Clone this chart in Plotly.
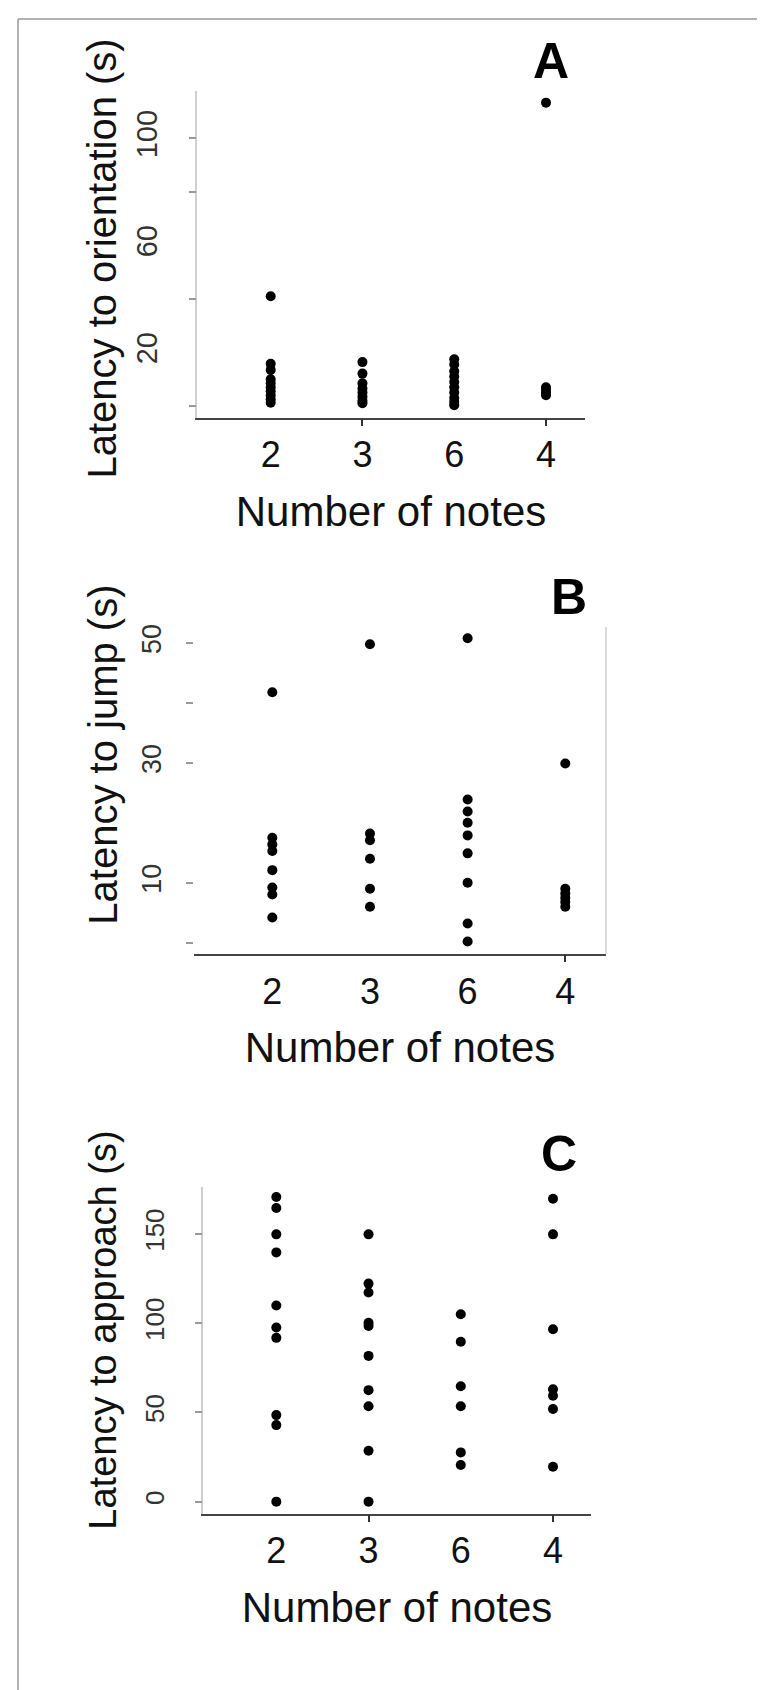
import plotly.graph_objects as go

# ---------------- data ----------------
categories = ["2", "3", "6", "4"]

# Panel A: latency to orientation (s)
orient_2 = [41, 15.8, 13.5, 10, 8.5, 7, 5.5, 4, 2.5, 1.2]
orient_3 = [16.4, 12.1, 8.5, 6.5, 5, 3.5, 2, 1]
orient_6 = [17.5, 15.5, 13, 11, 9, 7, 5, 3, 1.5, 0.3]
orient_4 = [113.4, 7, 6, 5, 4]

# Panel B: latency to jump (s)
jump_2 = [41.8, 17.5, 16.4, 15.3, 12.1, 9.2, 8.05, 4.2]
jump_3 = [49.8, 18.2, 17.1, 14, 9, 6]
jump_6 = [50.8, 23.9, 21.9, 20, 17.9, 14.9, 10, 3.2, 0.2]
jump_4 = [29.9, 9, 8.2, 7.5, 6.8, 6]

# Panel C: latency to approach (s)
appr_2 = [170.7, 164.6, 149.8, 139.7, 109.9, 97.6, 91.8, 48.5, 42.9, 0]
appr_3 = [149.8, 122.2, 117.2, 100.2, 98.5, 81.7, 62.5, 53.5, 28.5, 0]
appr_6 = [105, 89.6, 64.7, 53.5, 27.6, 20.5]
appr_4 = [169.8, 149.8, 96.6, 63, 59.3, 51.9, 19.6]

y_titles = ["Latency to orientation (s)", "Latency to jump (s)", "Latency to approach (s)"]
x_title = "Number of notes"
panel_letters = ["A", "B", "C"]

# y tick labels and (separately) the tick marks that are visible in the original
labels_A = [20, 60, 100]
marks_A = [0, 40, 80, 100]
labels_B = [10, 30, 50]
marks_B = [0, 10, 30, 40, 50]
labels_C = [0, 50, 100, 150]
marks_C = [0, 50, 100, 150]
# x categories that carry a visible tick mark in each panel
xmarks_A = ["3", "4"]
xmarks_B = ["4"]
xmarks_C = ["3", "4"]

# ---------------- figure ----------------
W, H = 765, 1690
FONT = "Liberation Sans, Arial, sans-serif"

def fx(p):
    return p / W

def fy(p):
    return 1 - p / H

fig = go.Figure()

panels = [
    ([orient_2, orient_3, orient_6, orient_4], "x", "y"),
    ([jump_2, jump_3, jump_6, jump_4], "x2", "y2"),
    ([appr_2, appr_3, appr_6, appr_4], "x3", "y3"),
]
for series, xa, ya in panels:
    for cat, vals in zip(categories, series):
        fig.add_trace(go.Scatter(
            x=[cat] * len(vals), y=vals, mode="markers",
            marker=dict(color="black", size=10, line=dict(width=0)),
            xaxis=xa, yaxis=ya, showlegend=False, hoverinfo="y"))

# empty traces that hold the tick-mark overlay axes
for xa, ya in [("x4", "y"), ("x5", "y2"), ("x6", "y3"), ("x", "y4"), ("x2", "y5"), ("x3", "y6")]:
    fig.add_trace(go.Scatter(x=[], y=[], xaxis=xa, yaxis=ya, showlegend=False, hoverinfo="skip"))

def xaxis(dom, rng, anchor):
    return dict(
        domain=dom, anchor=anchor, type="category", categoryorder="array",
        categoryarray=categories, range=rng,
        showline=True, linecolor="#444", linewidth=2, ticks="",
        tickfont=dict(family=FONT, size=36, color="#111"),
        ticklabelstandoff=4,
        title=dict(text=x_title, font=dict(family=FONT, size=42, color="#111"), standoff=22),
        showgrid=False, zeroline=False, fixedrange=True)

def xmarks(base, anchor, rng, cats):
    return dict(
        overlaying=base, anchor=anchor, type="linear", range=rng,
        tickvals=[categories.index(c) for c in cats], ticks="outside", ticklen=7,
        tickcolor="#333", tickwidth=1.5, showticklabels=False,
        showline=False, showgrid=False, zeroline=False, fixedrange=True)

def yaxis(dom, rng, anchor, labels, fsize, line=True):
    return dict(
        domain=dom, anchor=anchor, range=rng, tickvals=labels,
        tickangle=-90, tickfont=dict(family=FONT, size=fsize, color="#333"),
        ticks="", ticklabelstandoff=27,
        showline=line, linecolor="#cfcfcf", linewidth=1.5,
        showgrid=False, zeroline=False, fixedrange=True)

def ymarks(base, anchor, rng, vals):
    return dict(
        overlaying=base, anchor=anchor, side="left", range=rng, tickvals=vals,
        ticks="outside", ticklen=7, tickcolor="#999", tickwidth=1.5,
        showticklabels=False, showline=False, showgrid=False, zeroline=False,
        fixedrange=True)

xr_A, yr_A = [-0.803, 3.425], [-4.48, 117.8]
xr_B, yr_B = [-0.802, 3.417], [-1.95, 52.7]
xr_C, yr_C = [-0.795, 3.412], [-6.94, 176.4]

fig.update_layout(
    width=W, height=H, margin=dict(l=0, r=0, t=0, b=0),
    paper_bgcolor="white", plot_bgcolor="white",
    font=dict(family=FONT),
    xaxis=xaxis([fx(189), fx(577)], xr_A, "y"),
    yaxis=yaxis([fy(407.7), fy(80)], yr_A, "x", labels_A, 29),
    xaxis2=xaxis([fx(186), fx(598)], xr_B, "y2"),
    yaxis2=yaxis([fy(945), fy(617)], yr_B, "x2", labels_B, 27, line=False),
    xaxis3=xaxis([fx(195), fx(583)], xr_C, "y3"),
    yaxis3=yaxis([fy(1505.7), fy(1178)], yr_C, "x3", labels_C, 26),
    xaxis4=xmarks("x", "y", xr_A, xmarks_A),
    xaxis5=xmarks("x2", "y2", xr_B, xmarks_B),
    xaxis6=xmarks("x3", "y3", xr_C, xmarks_C),
    yaxis4=ymarks("y", "x", yr_A, marks_A),
    yaxis5=ymarks("y2", "x2", yr_B, marks_B),
    yaxis6=ymarks("y3", "x3", yr_C, marks_C),
)

# y-axis titles (rotated text)
for title, (px, py), fsize in zip(y_titles, [(94, 248), (95, 745), (95, 1322)], [40, 40, 38]):
    fig.add_annotation(text=title, xref="paper", yref="paper", x=fx(px), y=fy(py),
                       xanchor="center", yanchor="middle", textangle=-90, showarrow=False,
                       font=dict(family=FONT, size=fsize, color="#111"))

# right-hand frame line of panel B
fig.add_shape(type="line", xref="x2 domain", yref="y2 domain", x0=1, x1=1, y0=0, y1=1,
              line=dict(color="#cfcfcf", width=1.5))

# outer frame (left and top edges)
fig.add_shape(type="line", xref="paper", yref="paper", x0=fx(10), x1=fx(10), y0=0, y1=fy(8),
              line=dict(color="#999", width=1.5))
fig.add_shape(type="line", xref="paper", yref="paper", x0=fx(10), x1=1, y0=fy(8), y1=fy(8),
              line=dict(color="#999", width=1.5))

# panel letters
for letter, (px, py) in zip(panel_letters, [(543, 50), (561, 587), (551, 1145)]):
    fig.add_annotation(text="<b>%s</b>" % letter, xref="paper", yref="paper",
                       x=fx(px), y=fy(py), xanchor="center", yanchor="middle",
                       showarrow=False, font=dict(family=FONT, size=50, color="black"))

fig.write_html("out.html")
